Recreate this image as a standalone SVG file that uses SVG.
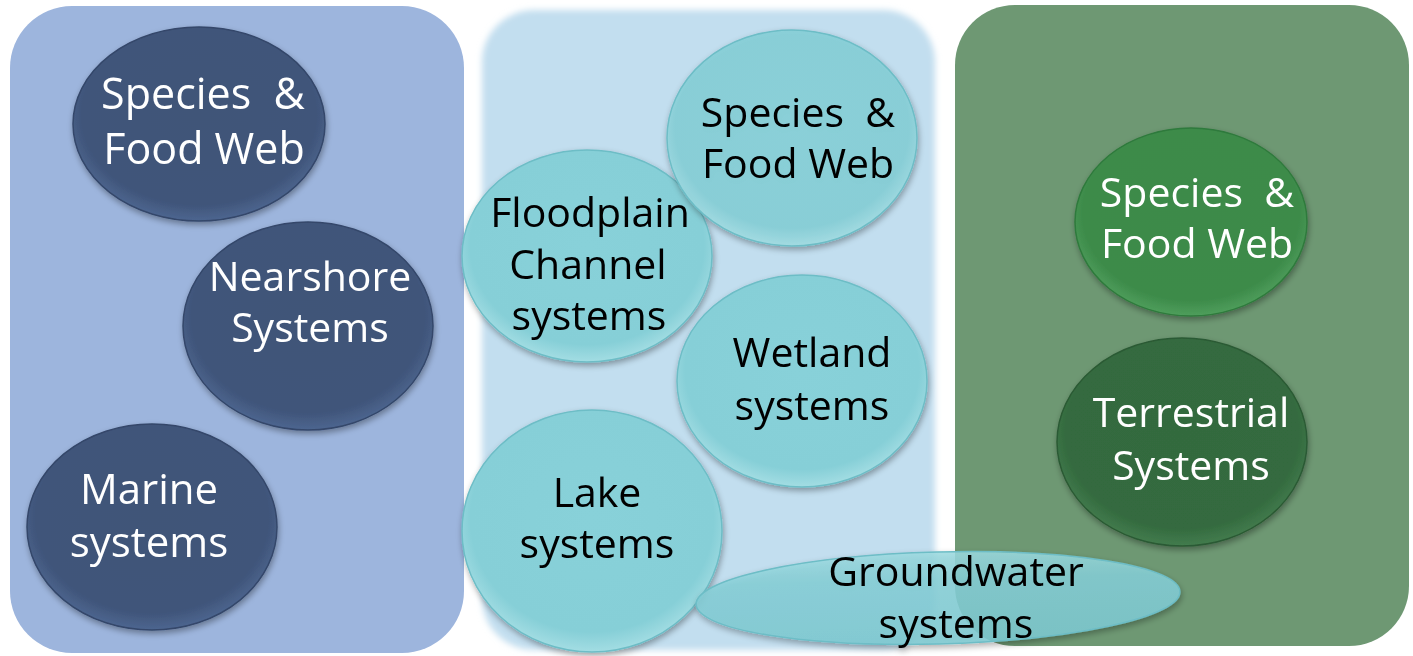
<svg xmlns="http://www.w3.org/2000/svg" width="1413" height="656" viewBox="0 0 1413 656">
<defs>
<filter id="sh" x="-10%" y="-10%" width="125%" height="130%">
<feGaussianBlur in="SourceAlpha" stdDeviation="3"/>
<feOffset dx="1" dy="3" result="b"/>
<feComponentTransfer><feFuncA type="linear" slope="0.35"/></feComponentTransfer>
<feMerge><feMergeNode/><feMergeNode in="SourceGraphic"/></feMerge>
</filter>
<filter id="soft" x="-5%" y="-5%" width="110%" height="110%">
<feGaussianBlur stdDeviation="3"/>
</filter>
<radialGradient id="gNavy" cx="0.5" cy="0.45" r="0.55">
<stop offset="0" stop-color="#3f5478"/><stop offset="0.85" stop-color="#40557a"/><stop offset="1" stop-color="#4d6690"/>
</radialGradient>
<radialGradient id="gTeal" cx="0.5" cy="0.45" r="0.55">
<stop offset="0" stop-color="#88d1d9"/><stop offset="0.85" stop-color="#86cfd7"/><stop offset="1" stop-color="#a3dde3"/>
</radialGradient>
<radialGradient id="gGreen1" cx="0.5" cy="0.45" r="0.55">
<stop offset="0" stop-color="#3c8a48"/><stop offset="0.85" stop-color="#3d8b4a"/><stop offset="1" stop-color="#4f9e5c"/>
</radialGradient>
<radialGradient id="gGreen2" cx="0.5" cy="0.45" r="0.55">
<stop offset="0" stop-color="#336a3e"/><stop offset="0.85" stop-color="#346b3f"/><stop offset="1" stop-color="#437c4e"/>
</radialGradient>
<linearGradient id="gGround" x1="0" y1="0" x2="0" y2="1">
<stop offset="0" stop-color="#9ddbe0"/><stop offset="0.3" stop-color="#86d0d8"/><stop offset="1" stop-color="#7ecbd3"/>
</linearGradient>
<style>
.t{font-family:"Open Sans","Liberation Sans",sans-serif;text-anchor:middle;white-space:pre}
.w{fill:#ffffff}
.k{fill:#000000}
.navy{fill:url(#gNavy);stroke:#34476a;stroke-width:1.5}
.teal{fill:url(#gTeal);stroke:#6dbdc6;stroke-width:1.5}
</style>
</defs>
<rect width="1413" height="656" fill="#ffffff"/>
<g id="panel-marine"><rect x="10" y="6" width="454" height="647" rx="62" fill="#9db5dd"/></g>
<g id="panel-freshwater"><rect x="482" y="10" width="453" height="640" rx="52" fill="#c2deef" filter="url(#soft)"/></g>
<g id="panel-terrestrial"><rect x="955" y="5" width="454" height="641" rx="60" fill="#6e9873"/></g>
<g id="connectors"></g>
<g id="marine-species" filter="url(#sh)">
<ellipse cx="199" cy="124" rx="126" ry="97" class="navy"/>
<text class="t w" font-size="43" xml:space="preserve"><tspan x="203" y="109">Species  &amp;</tspan><tspan x="204" y="164">Food Web</tspan></text>
</g>
<g id="nearshore" filter="url(#sh)">
<ellipse cx="308" cy="326" rx="125" ry="104" class="navy"/>
<text class="t w" font-size="41"><tspan x="310" y="291">Nearshore</tspan><tspan x="310" y="342">Systems</tspan></text>
</g>
<g id="marine" filter="url(#sh)">
<ellipse cx="152" cy="527" rx="125" ry="103" class="navy"/>
<text class="t w" font-size="42"><tspan x="149" y="504">Marine</tspan><tspan x="149" y="557">systems</tspan></text>
</g>
<g id="floodplain" filter="url(#sh)">
<ellipse cx="587" cy="256" rx="125" ry="106" class="teal"/>
<text class="t k" font-size="41"><tspan x="590" y="227">Floodplain</tspan><tspan x="588" y="279">Channel</tspan><tspan x="589" y="330">systems</tspan></text>
</g>
<g id="fresh-species" filter="url(#sh)">
<ellipse cx="792" cy="138" rx="125" ry="108" class="teal" fill-opacity="0.92"/>
<text class="t k" font-size="41" xml:space="preserve"><tspan x="798" y="127">Species  &amp;</tspan><tspan x="798" y="178">Food Web</tspan></text>
</g>
<g id="wetland" filter="url(#sh)">
<ellipse cx="802" cy="381" rx="125" ry="106" class="teal"/>
<text class="t k" font-size="41"><tspan x="812" y="367">Wetland</tspan><tspan x="812" y="420">systems</tspan></text>
</g>
<g id="lake" filter="url(#sh)">
<ellipse cx="592" cy="531" rx="130" ry="121" class="teal"/>
<text class="t k" font-size="41"><tspan x="597" y="507">Lake</tspan><tspan x="597" y="558">systems</tspan></text>
</g>
<g id="groundwater" filter="url(#sh)">
<ellipse cx="938" cy="598" rx="242" ry="46" fill="url(#gGround)" fill-opacity="0.85" stroke="#6dbdc6" stroke-width="1.5" transform="rotate(-1.5 938 598)"/>
<text class="t k" font-size="41"><tspan x="956" y="586">Groundwater</tspan><tspan x="956" y="638">systems</tspan></text>
</g>
<g id="terr-species" filter="url(#sh)">
<ellipse cx="1191" cy="222" rx="116" ry="94" fill="url(#gGreen1)" stroke="#2f7a3c" stroke-width="1.5"/>
<text class="t w" font-size="41" xml:space="preserve"><tspan x="1197" y="207">Species  &amp;</tspan><tspan x="1197" y="258">Food Web</tspan></text>
</g>
<g id="terrestrial" filter="url(#sh)">
<ellipse cx="1182" cy="442" rx="125" ry="104" fill="url(#gGreen2)" stroke="#2b5a34" stroke-width="1.5"/>
<text class="t w" font-size="41"><tspan x="1191" y="427">Terrestrial</tspan><tspan x="1191" y="480">Systems</tspan></text>
</g>
</svg>
